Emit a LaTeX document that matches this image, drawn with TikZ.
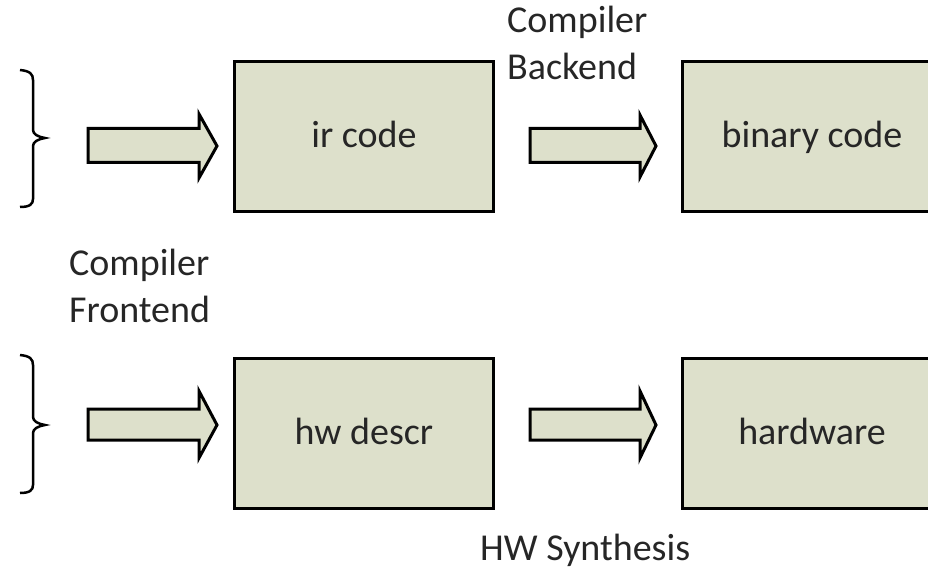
\documentclass[tikz,border=0pt]{standalone}
\usepackage{fontspec}
\setmainfont{Carlito}
\definecolor{boxfill}{RGB}{221,224,203}
\definecolor{txt}{RGB}{38,38,38}
\tikzset{
  stagebox/.style={draw=black, line width=3pt, fill=boxfill, minimum width=259pt, minimum height=150pt,
    inner sep=0pt, text height=27pt, text depth=5pt, text=txt, font=\fontsize{38}{47}\selectfont},
  lbl/.style={anchor=base west, inner sep=0pt, text=txt, font=\fontsize{38}{47}\selectfont},
  blockarrow/.style={draw=black, line width=3pt, fill=boxfill, line join=miter},
  bracestyle/.style={draw=black, line width=2.5pt, line join=miter}
}
\begin{document}
\begin{tikzpicture}[x=1pt,y=-1pt]
\useasboundingbox (0,0) rectangle (928,569);
\begin{scope}
\clip (0,0) rectangle (928,569);
% boxes
\node[stagebox] (ir) at (364,137) {ir code};
\node[stagebox] (bin) at (812,137) {binary code};
\node[stagebox] (hw) at (364,433.5) {hw descr};
\node[stagebox] (hard) at (812,433.5) {hardware};
\end{scope}
% braces
\draw[bracestyle] (20,70) .. controls (30,71) and (33,74) .. (33,80) -- (33,130) .. controls (33,134) and (38,137) .. (45,138)
  .. controls (38,139) and (33,142) .. (33,146) -- (33,199) .. controls (33,204) and (30,207) .. (20,207);
\draw[bracestyle] (20,355) .. controls (30,356) and (33,359) .. (33,365) -- (33,417) .. controls (33,421) and (38,424) .. (45,425)
  .. controls (38,426) and (33,429) .. (33,433) -- (33,485) .. controls (33,490) and (30,493) .. (20,493);
% block arrows
\draw[blockarrow] (88,128.5) -- (199,128.5) -- (199,114) -- (217,146) -- (199,178) -- (199,162.5) -- (88,162.5) -- cycle;
\draw[blockarrow] (530,128.5) -- (640,128.5) -- (640,115) -- (656,146) -- (640,177) -- (640,162.5) -- (530,162.5) -- cycle;
\draw[blockarrow] (88,409) -- (199,409) -- (199,391) -- (217,425) -- (199,458) -- (199,440) -- (88,440) -- cycle;
\draw[blockarrow] (530,409) -- (640,409) -- (640,391) -- (656,425) -- (640,458) -- (640,440) -- (530,440) -- cycle;
% labels
\node[lbl] (cb1) at (507,33) {Compiler};
\node[lbl] (cb2) at (507,80) {Backend};
\node[lbl] (cf1) at (69,275) {Compiler};
\node[lbl] (cf2) at (69,322) {Frontend};
\node[lbl] (hws) at (480,560) {HW Synthesis};
\end{tikzpicture}
\end{document}
